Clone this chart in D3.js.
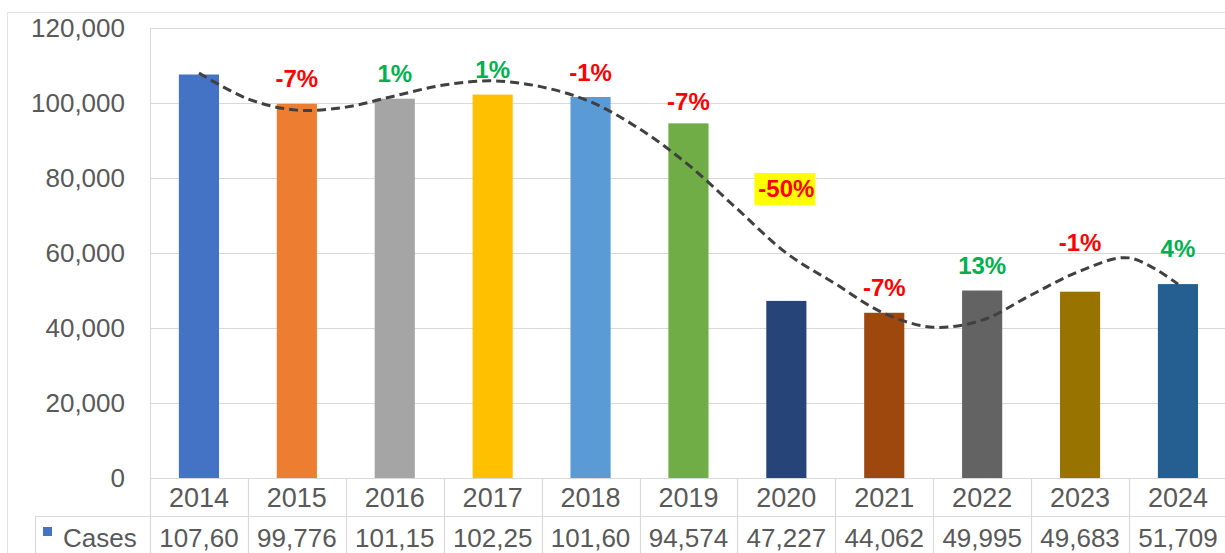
<!DOCTYPE html>
<html>
<head>
<meta charset="utf-8">
<script src="https://cdn.jsdelivr.net/npm/d3@7"></script>
<style>
  html, body { margin: 0; padding: 0; background: #fff; }
  svg { display: block; font-family: "Liberation Sans", Arial, sans-serif; }
</style>
</head>
<body>
<svg id="chart" width="1225" height="553"></svg>
<script>
// ---- data ----
const years = ["2014","2015","2016","2017","2018","2019","2020","2021","2022","2023","2024"];
const cases = [107600, 99776, 101150, 102250, 101600, 94574, 47227, 44062, 49995, 49683, 51709];
const tableLabels = ["107,60","99,776","101,15","102,25","101,60","94,574","47,227","44,062","49,995","49,683","51,709"];
const changeLabels = ["", "-7%", "1%", "1%", "-1%", "-7%", "-50%", "-7%", "13%", "-1%", "4%"];
const yTicks = [0, 20000, 40000, 60000, 80000, 100000, 120000];
const seriesName = "Cases";
// dashed trend curve, read at half-category steps
const trendIndex = [0,0.5,1,1.5,2,2.5,3,3.5,4,4.5,5,5.5,6,6.5,7,7.5,8,8.5,9,9.5,10];
const trendValues = [108000,101100,98100,98900,101900,104800,105900,104300,100300,93100,83500,71700,60000,51800,43900,40200,42100,48800,55200,58700,51700];

// ---- styles ----
const barColors = ["#4472C4","#ED7D31","#A5A5A5","#FFC000","#5B9BD5","#70AD47","#264478","#9E480E","#636363","#997300","#255E91"];
const textGray = "#595959";
const gridGray = "#D9D9D9";
const red = "#FF0000", green = "#00B050";

(function () {
const svg = d3.select("#chart");
const W = 1225, H = 553;
const plotLeft = 150, plotTop = 28, base = 478, step = 97.9;
const rowH = 38;

const x = d3.scaleBand().domain(years).range([plotLeft, plotLeft + step * years.length]).padding(0);
const y = d3.scaleLinear().domain([0, 120000]).range([base, plotTop]);
const bw = x.bandwidth();
const barW = bw * 0.41;

// outer chart border
svg.append("rect").attr("x", 7.5).attr("y", 12.5).attr("width", W).attr("height", H)
  .attr("fill", "none").attr("stroke", "#E3E3E3");

// plot area border
svg.append("rect").attr("x", plotLeft + 0.5).attr("y", plotTop + 0.5).attr("width", W).attr("height", base - plotTop)
  .attr("fill", "none").attr("stroke", gridGray);

// gridlines
svg.append("g").selectAll("line").data(yTicks).join("line")
  .attr("x1", plotLeft).attr("x2", W)
  .attr("y1", d => Math.round(y(d)) + 0.5).attr("y2", d => Math.round(y(d)) + 0.5)
  .attr("stroke", gridGray).attr("stroke-width", 1.2);

// y axis labels
svg.append("g").selectAll("text").data(yTicks).join("text")
  .attr("x", 125).attr("y", d => y(d))
  .attr("text-anchor", "end").attr("dominant-baseline", "central")
  .attr("font-size", 26).attr("fill", textGray)
  .text(d => d3.format(",")(d));

// bars
svg.append("g").selectAll("rect").data(cases).join("rect")
  .attr("x", (d, i) => x(years[i]) + (bw - barW) / 2)
  .attr("width", barW)
  .attr("y", d => y(d))
  .attr("height", d => base - y(d))
  .attr("fill", (d, i) => barColors[i]);

// dashed trend line
const xi = d3.scaleLinear().domain([0, years.length - 1])
  .range([x(years[0]) + bw / 2, x(years[years.length - 1]) + bw / 2]);
const line = d3.line().x(d => xi(d[0])).y(d => y(d[1])).curve(d3.curveCatmullRom.alpha(0.5));
svg.append("path").datum(trendIndex.map((t, i) => [t, trendValues[i]]))
  .attr("d", line).attr("fill", "none")
  .attr("stroke", "#404040").attr("stroke-width", 3)
  .attr("stroke-dasharray", "9,5");

// change labels
const lift = {"2020": 112, "2023": 49, "2024": 36, "2019": 22};
const lbl = svg.append("g");
changeLabels.forEach((t, i) => {
  if (!t) return;
  const cx = x(years[i]) + bw / 2;
  const cy = y(cases[i]) - (lift[years[i]] || 25);
  const col = t.startsWith("-") ? red : green;
  if (years[i] === "2020") {
    lbl.append("rect").attr("x", cx - 32).attr("y", cy - 16).attr("width", 61).attr("height", 32)
      .attr("fill", "#FFFF00");
  }
  lbl.append("text").attr("x", cx).attr("y", cy)
    .attr("text-anchor", "middle").attr("dominant-baseline", "central")
    .attr("font-size", 24).attr("font-weight", "bold").attr("fill", col)
    .text(t);
});

// data table
const tb = svg.append("g");
const row1 = base, row2 = base + rowH;
tb.append("line").attr("x1", plotLeft).attr("x2", W).attr("y1", row1 + 0.5).attr("y2", row1 + 0.5).attr("stroke", gridGray).attr("stroke-width", 1.2);
tb.append("line").attr("x1", 35).attr("x2", W).attr("y1", row2 + 0.5).attr("y2", row2 + 0.5).attr("stroke", gridGray).attr("stroke-width", 1.2);
const bounds = years.map(d => x(d)).concat([x(years[years.length - 1]) + bw]);
tb.selectAll("line.v").data(bounds).join("line").attr("class", "v")
  .attr("x1", d => Math.round(d) + 0.5).attr("x2", d => Math.round(d) + 0.5)
  .attr("y1", row1).attr("y2", H)
  .attr("stroke", gridGray).attr("stroke-width", 1.2);
tb.append("line").attr("x1", 35.5).attr("x2", 35.5).attr("y1", row2).attr("y2", H).attr("stroke", gridGray).attr("stroke-width", 1.2);
tb.selectAll("text.yr").data(years).join("text").attr("class", "yr")
  .attr("x", d => x(d) + bw / 2).attr("y", row1 + rowH / 2 + 1)
  .attr("text-anchor", "middle").attr("dominant-baseline", "central")
  .attr("font-size", 27).attr("fill", textGray).text(d => d);
tb.selectAll("text.val").data(tableLabels).join("text").attr("class", "val")
  .attr("x", (d, i) => x(years[i]) + bw / 2).attr("y", row2 + 22)
  .attr("text-anchor", "middle").attr("dominant-baseline", "central")
  .attr("font-size", 26).attr("fill", textGray).text(d => d);
tb.append("rect").attr("x", 43).attr("y", 527).attr("width", 9).attr("height", 9).attr("fill", barColors[0]);
tb.append("text").attr("x", 63).attr("y", row2 + 22).attr("dominant-baseline", "central")
  .attr("font-size", 26).attr("fill", textGray).text(seriesName);
})();
</script>
</body>
</html>
